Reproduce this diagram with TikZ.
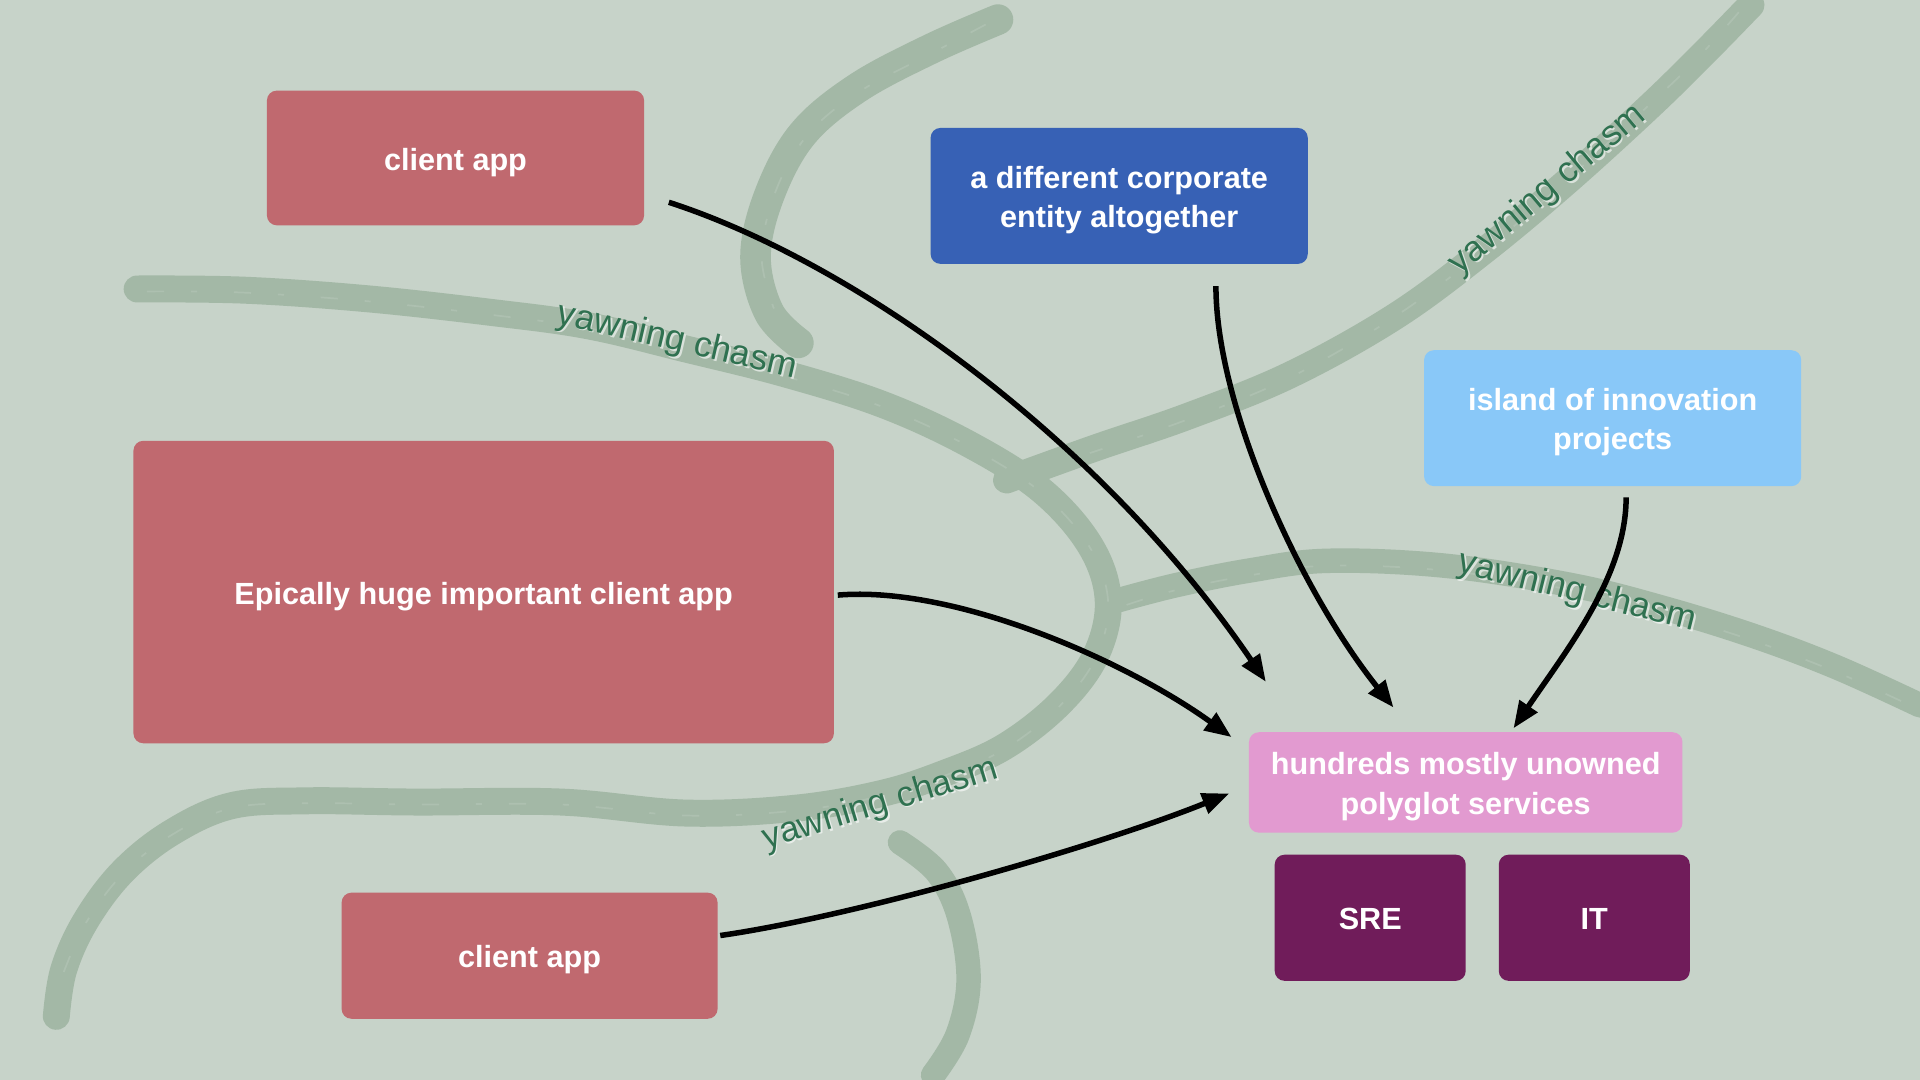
\documentclass[tikz,border=0pt]{standalone}
\usepackage{fontspec}
\setmainfont{Liberation Sans}
\usetikzlibrary{arrows.meta,calc}
\definecolor{bgc}{HTML}{C7D3C9}
\definecolor{brushc}{HTML}{A3B8A6}
\definecolor{redc}{HTML}{C0696F}
\definecolor{bluec}{HTML}{3761B5}
\definecolor{lbluec}{HTML}{89C8F8}
\definecolor{pinkc}{HTML}{E29AD0}
\definecolor{purplec}{HTML}{701C5A}
\definecolor{chasmc}{HTML}{2F7150}
\tikzset{
  box/.style={rectangle, rounded corners=8pt, inner sep=0pt},
  boxtext/.style={text=white, align=center, inner sep=0pt, yshift=-3.5pt,
    font=\bfseries\fontsize{25}{32}\selectfont},
  brush/.style={draw=brushc, line width=22pt, line cap=round, line join=round},
  streak/.style={draw=bgc, line width=1.4pt, opacity=0.3, dash pattern=on 14pt off 22pt on 5pt off 30pt},
  chasm/.style={text=chasmc, inner sep=0pt, font=\fontsize{29}{30}\selectfont},
  glow/.style={text=white, opacity=0.6, inner sep=0pt, font=\fontsize{29}{30}\selectfont},
  conn/.style={-{Triangle[length=22pt,width=17pt]}, line width=4.5pt, black}
}
\begin{document}
\begin{tikzpicture}[x=1pt,y=-1pt]
\fill[bgc] (0,0) rectangle (1568,882);
\useasboundingbox (0,0) rectangle (1568,882);

% brush strokes
\draw[brush, line width=25pt] plot[smooth, tension=0.6] coordinates {(815,16) (760,40) (700,72) (655,110) (628,160) (617,210) (628,255) (652,280)};
\draw[brush] plot[smooth, tension=0.6] coordinates {(112,236) (200,237) (300,244) (400,255) (480,266) (560,285) (640,305) (720,330) (790,362) (850,400) (890,445) (905,490) (895,535) (865,575) (820,610) (770,632) (720,648) (650,660) (560,664) (458,655) (340,655) (250,654) (189,658) (140,680) (100,712) (70,752) (52,792) (46,830)};
\draw[brush, line width=20pt] plot[smooth, tension=0.6] coordinates {(735,688) (765,712) (783,748) (791,800) (782,845) (762,878)};
\draw[brush] plot[smooth, tension=0.6] coordinates {(1430,4) (1390,45) (1346,88) (1280,148) (1213,204) (1140,258) (1054,306) (970,340) (894,366) (822,392)};
\draw[brush, line width=20pt] plot[smooth, tension=0.6] coordinates {(914,490) (960,478) (1020,466) (1084,458) (1180,462) (1284,478) (1360,497) (1434,520) (1500,545) (1568,576)};

% texture streaks
\draw[streak] plot[smooth, tension=0.6] coordinates {(120,238) (200,239) (300,246) (400,257) (480,268) (560,287) (640,307) (720,332) (790,364) (850,402) (890,447) (905,492) (895,537) (865,577) (820,612) (770,634) (720,650) (650,662) (560,666) (458,657) (340,657) (250,656) (189,660) (140,682) (100,714) (70,754) (52,794)};
\draw[streak] plot[smooth, tension=0.6] coordinates {(805,20) (760,44) (700,76) (658,112) (632,160) (622,210) (632,252)};
\draw[streak] plot[smooth, tension=0.6] coordinates {(1420,10) (1384,50) (1340,92) (1274,152) (1208,208) (1134,262) (1050,310) (966,344) (890,370)};
\draw[streak] plot[smooth, tension=0.6] coordinates {(920,494) (960,482) (1020,470) (1084,462) (1180,466) (1284,482) (1360,501) (1434,524) (1500,549) (1560,576)};

% chasm labels (white soft shadow, then green text)
\node[glow, rotate=-13] (g1) at (554.5,280.5) {yawning chasm};
\node[chasm, rotate=-13] (t1) at (553,279) {yawning chasm};
\node[glow, rotate=40] (g2) at (1265.5,156.5) {yawning chasm};
\node[chasm, rotate=40] (t2) at (1264,155) {yawning chasm};
\node[glow, rotate=-14] (g3) at (1289.5,485.5) {yawning chasm};
\node[chasm, rotate=-14] (t3) at (1288,484) {yawning chasm};
\node[glow, rotate=17] (g4) at (720.5,658.5) {yawning chasm};
\node[chasm, rotate=17] (t4) at (719,657) {yawning chasm};

% boxes
\node[box, fill=redc, minimum width=308pt, minimum height=110pt] (c1) at (372,129) {};
\node[box, fill=bluec, minimum width=308pt, minimum height=111pt] (corp) at (914,160) {};
\node[box, fill=lbluec, minimum width=308pt, minimum height=111pt] (isl) at (1317,341.5) {};
\node[box, fill=redc, minimum width=572pt, minimum height=247pt] (epic) at (395,483.5) {};
\node[box, fill=redc, minimum width=307pt, minimum height=103pt] (c2) at (432.5,780.5) {};
\node[box, fill=pinkc, minimum width=354pt, minimum height=82pt] (svc) at (1197,639) {};
\node[box, fill=purplec, minimum width=156pt, minimum height=103pt] (sre) at (1119,749.5) {};
\node[box, fill=purplec, minimum width=156pt, minimum height=103pt] (it) at (1302,749.5) {};

% box texts
\node[boxtext] (c1t) at (c1.center) {client app};
\node[boxtext] (corpt) at (corp.center) {a different corporate\\entity altogether};
\node[boxtext] (islt) at (isl.center) {island of innovation\\projects};
\node[boxtext] (epict) at (epic.center) {Epically huge important client app};
\node[boxtext] (c2t) at (c2.center) {client app};
\node[boxtext] (svct) at (svc.center) {hundreds mostly unowned\\polyglot services};
\node[boxtext, yshift=2.5pt] (sret) at (sre.center) {SRE};
\node[boxtext, yshift=2.5pt] (itt) at (it.center) {IT};

% connectors
\draw[conn] ($(c1.south east)+(20,-19)$) .. controls (700,215) and (900,360) .. ($(svc.north west)+(14,-41)$);
\draw[conn] ($(corp.south)+(79,18)$) .. controls (993,330) and (1060,480) .. ($(svc.north)+(-59,-20)$);
\draw[conn] ($(isl.south)+(11,9)$) .. controls (1328,470) and (1280,530) .. ($(svc.north)+(39,-3)$);
\draw[conn] ($(epic.east)+(3,2.5)$) .. controls (780,478) and (920,540) .. ($(svc.west)+(-14,-37)$);
\draw[conn] ($(c2.east)+(2,-16.5)$) .. controls (700,748) and (900,690) .. ($(svc.west)+(-16,9)$);
\end{tikzpicture}
\end{document}
